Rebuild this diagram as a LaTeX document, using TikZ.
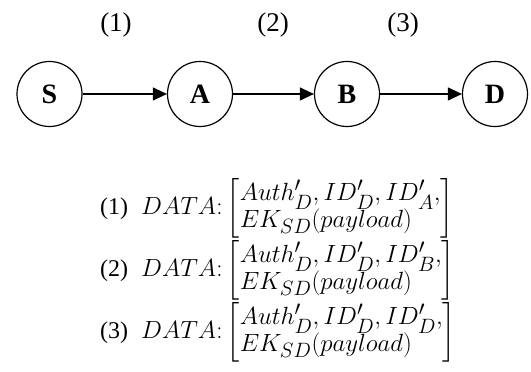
\documentclass[tikz,border=0pt]{standalone}
\usepackage{amsmath}
\usepackage{fontspec}
\setmainfont{Liberation Serif}
\usetikzlibrary{arrows.meta}
\newcommand{\blk}[2]{{\fontsize{24}{28}\selectfont (#1)}\hspace{13pt}\scalebox{1.0}{\fontsize{24.88}{27.5}\selectfont$DATA{:}\left[\begin{array}{@{}l@{}}Auth'_{D}, ID'_{D}, ID'_{#2},\\[-1pt] EK_{SD}(payload)\end{array}\right]$}}
\tikzset{
  nd/.style={draw, circle, line width=1.2pt, minimum size=65pt, inner sep=0pt, font=\fontsize{28}{32}\selectfont\bfseries},
  arr/.style={line width=1.2pt, -{Triangle[length=14pt,width=13pt]}},
  lbl/.style={font=\fontsize{27}{31}\selectfont},
  dat/.style={inner sep=0pt, anchor=west}
}
\begin{document}
\begin{tikzpicture}[x=1pt,y=1pt]
\useasboundingbox (0,0) rectangle (531,372);
\node[nd] (S) at (49.5,278) {S};
\node[nd] (A) at (200,278) {A};
\node[nd] (B) at (347,278) {B};
\node[nd] (D) at (495,278) {D};
\draw[arr] (S) -- (A);
\draw[arr] (A) -- (B);
\draw[arr] (B) -- (D);
\node[lbl] (l1) at (116,347) {(1)};
\node[lbl] (l2) at (273,347) {(2)};
\node[lbl] (l3) at (403,347) {(3)};
\node[dat] (d1) at (100,164) {\blk{1}{A}};
\node[dat] (d2) at (100,102) {\blk{2}{B}};
\node[dat] (d3) at (100,40) {\blk{3}{D}};
\end{tikzpicture}
\end{document}
